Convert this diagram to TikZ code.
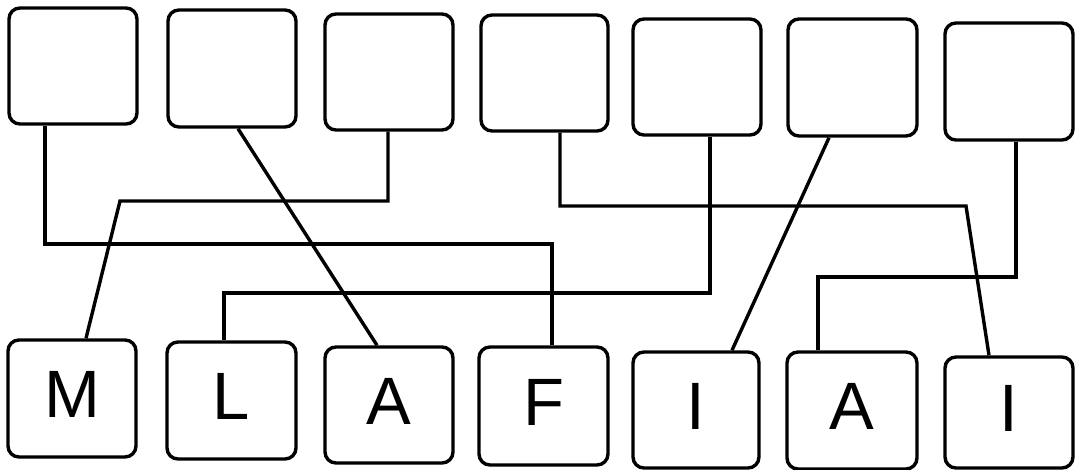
\documentclass[tikz,border=0pt]{standalone}
\usepackage{fontspec}
\setmainfont{Liberation Sans}
\begin{document}
\begin{tikzpicture}[x=1pt,y=-1pt,
  box/.style={draw=black,line width=3.4pt,rounded corners=11pt,fill=white,
    minimum width=128pt,minimum height=116pt,inner sep=0pt,
    font=\fontsize{67}{67}\selectfont},
  letterbox/.style={box,text depth=8pt},
  wire/.style={draw=black,line width=3.4pt,line join=miter}]
\useasboundingbox (0,0) rectangle (1076,470);
% top boxes
\node[box] (t1) at (73,66) {};
\node[box,minimum height=117pt] (t2) at (232,68.5) {};
\node[box] (t3) at (389,72) {};
\node[box,minimum width=127pt] (t4) at (544.5,73) {};
\node[box] (t5) at (697,77) {};
\node[box,minimum width=129pt,minimum height=117pt] (t6) at (852.5,77.5) {};
\node[box,minimum height=117pt] (t7) at (1009,81.5) {};
% bottom boxes
\node[letterbox,minimum height=117pt] (b1) at (72,398.5) {M};
\node[letterbox,minimum width=129pt,minimum height=117pt] (b2) at (231.5,400.5) {L};
\node[letterbox] (b3) at (389,405) {A};
\node[letterbox,minimum width=129pt,minimum height=118pt] (b4) at (543.5,406) {F};
\node[letterbox,minimum width=126pt] (b5) at (696,410) {I};
\node[letterbox,minimum width=130pt,minimum height=117pt] (b6) at (852,410.5) {A};
\node[letterbox,minimum height=111pt] (b7) at (1009,412.5) {I};
% bends
\coordinate (j1) at (45,244);
\coordinate (j3) at (120,201);
\coordinate (j4) at (966,206);
\coordinate (j5) at (224,293);
\coordinate (j7) at (818,277);
% connectors
\draw[wire] ([xshift=-28pt]t1.south) -- (j1) -| ([xshift=8.5pt]b4.north);
\draw[wire] ([xshift=6pt]t2.south) -- ([xshift=-12pt]b3.north);
\draw[wire] ([xshift=-1pt]t3.south) |- (j3) -- ([xshift=14pt]b1.north);
\draw[wire] ([xshift=15.5pt]t4.south) |- (j4) -- ([xshift=-20pt]b7.north);
\draw[wire] ([xshift=13pt]t5.south) |- (j5) -- ([xshift=-7.5pt]b2.north);
\draw[wire] ([xshift=-23.5pt]t6.south) -- ([xshift=36pt]b5.north);
\draw[wire] ([xshift=7pt]t7.south) |- (j7) -- ([xshift=-34pt]b6.north);
\end{tikzpicture}
\end{document}
